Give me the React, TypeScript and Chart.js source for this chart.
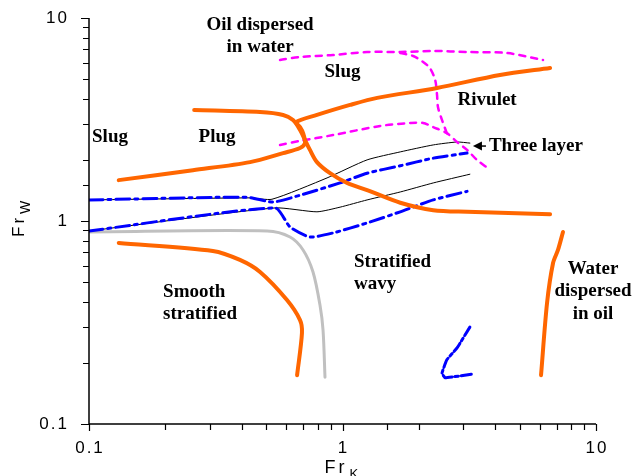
import React, { useEffect, useRef } from 'react';
import { Chart, registerables } from 'chart.js';

Chart.register(...registerables);

// ---- Data (Fr_K, Fr_W) ----
const plugLowerToSlugUpper: [number, number][] = [
  [0.131, 1.59], [0.257, 1.78], [0.432, 1.95], [0.583, 2.16], [0.68, 2.29],
  [0.711, 2.42], [0.699, 2.71], [0.68, 2.9], [0.656, 3.07], [0.793, 3.33],
  [1.071, 3.73], [1.37, 4.04], [2.36, 4.52], [4.18, 5.24], [6.59, 5.67],
];
const plugUpperToWavy: [number, number][] = [
  [0.26, 3.52], [0.473, 3.44], [0.583, 3.33], [0.638, 3.14], [0.68, 2.81],
  [0.711, 2.51], [0.744, 2.24], [0.793, 1.95], [0.893, 1.72], [1.042, 1.54],
  [1.25, 1.42], [1.69, 1.23], [2.28, 1.13], [3.1, 1.11], [6.59, 1.08],
];
const smoothBoundary: [number, number][] = [
  [0.131, 0.779], [0.308, 0.712], [0.394, 0.643], [0.473, 0.561], [0.604, 0.408],
  [0.68, 0.325], [0.692, 0.281], [0.662, 0.174],
];
const waterInOilBoundary: [number, number][] = [
  [6.07, 0.174], [6.41, 0.394], [6.77, 0.621], [7.08, 0.72], [7.41, 0.883],
];
const grayBoundary: [number, number][] = [
  [0.1, 0.883], [0.504, 0.893], [0.621, 0.834], [0.699, 0.72], [0.765, 0.561],
  [0.815, 0.386], [0.838, 0.29], [0.853, 0.17],
];
const blackUpper: [number, number][] = [
  [0.1, 1.27], [0.432, 1.3], [0.527, 1.28], [0.869, 1.63], [1.25, 2.0],
  [1.69, 2.19], [2.28, 2.37], [2.83, 2.45], [3.18, 2.42],
];
const blackLower: [number, number][] = [
  [0.1, 0.893], [0.542, 1.16], [0.793, 1.11], [0.978, 1.17], [1.25, 1.27],
  [1.69, 1.39], [2.28, 1.54], [3.18, 1.7],
];
const blueUpper: [number, number][] = [
  [0.1, 1.27], [0.42, 1.31], [0.532, 1.24], [0.68, 1.34], [0.978, 1.54],
  [1.25, 1.72], [1.69, 1.87], [2.28, 2.04], [3.1, 2.16],
];
const blueLower: [number, number][] = [
  [0.1, 0.893], [0.542, 1.16], [0.621, 0.934], [0.744, 0.834], [0.917, 0.873],
  [1.25, 0.978], [1.69, 1.11], [2.28, 1.27], [3.1, 1.4],
];
const blueSmallV: [number, number][] = [
  [3.18, 0.3], [2.83, 0.237], [2.58, 0.207], [2.47, 0.178], [2.54, 0.169], [3.24, 0.176],
];
const magentaOuter: [number, number][] = [
  [0.567, 6.21], [0.68, 6.43], [0.917, 6.57], [1.25, 6.8], [1.69, 6.8],
  [2.28, 6.88], [3.1, 6.8], [4.46, 6.72], [6.18, 6.21],
];
const magentaInner: [number, number][] = [
  [1.69, 6.72], [1.9, 6.5], [2.08, 6.07], [2.21, 5.67], [2.32, 4.95],
  [2.36, 4.18], [2.38, 3.64], [2.47, 3.14], [2.58, 2.71],
];
const magentaLower: [number, number][] = [
  [0.567, 2.37], [0.68, 2.48], [0.917, 2.65], [1.41, 2.94], [1.85, 3.04],
  [2.08, 3.04], [2.28, 2.9], [2.58, 2.71], [2.83, 2.45], [3.1, 2.24],
  [3.39, 2.0], [3.75, 1.82],
];

const xTickLabels = [0.1, 1, 10];
const yTickLabels = [0.1, 1, 10];

type RegionLabel = { lines: string[]; x: number; y: number; align: CanvasTextAlign };
const regionLabels: RegionLabel[] = [
  { lines: ['Oil dispersed', 'in water'], x: 0.473, y: 9.24, align: 'center' },
  { lines: ['Slug'], x: 1.0, y: 5.42, align: 'center' },
  { lines: ['Rivulet'], x: 3.72, y: 3.95, align: 'center' },
  { lines: ['Slug'], x: 0.121, y: 2.59, align: 'center' },
  { lines: ['Plug'], x: 0.32, y: 2.59, align: 'center' },
  { lines: ['Three layer'], x: 3.78, y: 2.34, align: 'left' },
  { lines: ['Stratified', 'wavy'], x: 1.11, y: 0.628, align: 'left' },
  { lines: ['Smooth', 'stratified'], x: 0.196, y: 0.447, align: 'left' },
  { lines: ['Water', 'dispersed', 'in oil'], x: 9.73, y: 0.58, align: 'center' },
];
const arrowFrom: [number, number] = [3.68, 2.34];
const arrowTo: [number, number] = [3.27, 2.34];

const toPts = (a: [number, number][]) => a.map(([x, y]) => ({ x, y }));
const isMajor = (v: number) => Math.abs(Math.log10(v) - Math.round(Math.log10(v))) < 1e-6;

const ORANGE = '#FF6600';
const BLUE = '#0000FF';
const MAGENTA = '#FF00FF';

const decoPlugin = {
  id: 'deco',
  afterDraw(chart: any) {
    const ctx: CanvasRenderingContext2D = chart.ctx;
    const { left, right, top, bottom } = chart.chartArea;
    const xs = chart.scales.x;
    const ys = chart.scales.y;
    ctx.save();
    // axis lines
    ctx.strokeStyle = '#000';
    ctx.lineWidth = 1.5;
    ctx.beginPath();
    ctx.moveTo(left, top);
    ctx.lineTo(left, bottom);
    ctx.lineTo(right, bottom);
    ctx.stroke();
    // tick marks from the library's generated ticks
    ctx.lineWidth = 1.2;
    ctx.beginPath();
    for (const t of ys.ticks) {
      const p = Math.round(ys.getPixelForValue(t.value)) + 0.5;
      const len = isMajor(t.value) ? 8 : 6;
      ctx.moveTo(left - len, p);
      ctx.lineTo(left, p);
    }
    for (const t of xs.ticks) {
      const p = Math.round(xs.getPixelForValue(t.value)) + 0.5;
      const len = isMajor(t.value) ? 7 : 6;
      ctx.moveTo(p, bottom);
      ctx.lineTo(p, bottom + len);
    }
    ctx.stroke();
    // tick labels
    ctx.fillStyle = '#000';
    ctx.font = '17px "Liberation Sans", Arial, sans-serif';
    (ctx as any).letterSpacing = '2px';
    ctx.textBaseline = 'middle';
    ctx.textAlign = 'right';
    for (const v of yTickLabels) {
      ctx.fillText(String(v), 69, ys.getPixelForValue(v));
    }
    ctx.textAlign = 'center';
    for (const v of xTickLabels) {
      ctx.fillText(String(v), xs.getPixelForValue(v) + 1, bottom + 24);
    }
    // axis titles
    ctx.textBaseline = 'alphabetic';
    ctx.textAlign = 'left';
    (ctx as any).letterSpacing = '3px';
    ctx.font = '18px "Liberation Sans", Arial, sans-serif';
    const xTitleX = (left + right) / 2 - 18;
    ctx.fillText('Fr', xTitleX, 473);
    const frW = ctx.measureText('Fr').width;
    ctx.font = '13px "Liberation Sans", Arial, sans-serif';
    (ctx as any).letterSpacing = '0px';
    ctx.fillText('K', xTitleX + frW + 2, 478);

    ctx.save();
    ctx.translate(24, 237);
    ctx.rotate(-Math.PI / 2);
    (ctx as any).letterSpacing = '3px';
    ctx.font = '17px "Liberation Sans", Arial, sans-serif';
    ctx.fillText('Fr', 0, 0);
    const frW2 = ctx.measureText('Fr').width;
    (ctx as any).letterSpacing = '0px';
    ctx.font = '14px "Liberation Sans", Arial, sans-serif';
    ctx.fillText('W', frW2 + 1, 6);
    ctx.restore();

    // region labels
    ctx.font = 'bold 19px "Liberation Serif", "Times New Roman", serif';
    ctx.textBaseline = 'middle';
    for (const lab of regionLabels) {
      ctx.textAlign = lab.align;
      const px = xs.getPixelForValue(lab.x);
      const py = ys.getPixelForValue(lab.y);
      lab.lines.forEach((s, i) => ctx.fillText(s, px, py + i * 22.5));
    }
    // arrow
    const ax0 = xs.getPixelForValue(arrowFrom[0]);
    const ay0 = ys.getPixelForValue(arrowFrom[1]);
    const ax1 = xs.getPixelForValue(arrowTo[0]);
    const ay1 = ys.getPixelForValue(arrowTo[1]);
    ctx.strokeStyle = '#000';
    ctx.lineWidth = 1.5;
    ctx.beginPath();
    ctx.moveTo(ax0, ay0);
    ctx.lineTo(ax1 + 6, ay1);
    ctx.stroke();
    ctx.beginPath();
    ctx.moveTo(ax1, ay1);
    ctx.lineTo(ax1 + 9, ay1 - 4.5);
    ctx.lineTo(ax1 + 9, ay1 + 4.5);
    ctx.closePath();
    ctx.fill();
    ctx.restore();
  },
};

export default function App() {
  const ref = useRef<HTMLCanvasElement | null>(null);
  useEffect(() => {
    document.body.style.margin = '0';
    if (!ref.current) return;
    const line = (data: [number, number][], color: string, width: number, dash: number[], order: number, tension = 0.3) => ({
      data: toPts(data),
      showLine: true,
      borderColor: color,
      backgroundColor: color,
      borderWidth: width,
      borderDash: dash,
      pointRadius: 0,
      tension,
      fill: false,
      order,
      borderCapStyle: 'round' as const,
      borderJoinStyle: 'round' as const,
    });
    const dashDot = [14, 5, 3, 5];
    const chart = new Chart(ref.current, {
      type: 'scatter',
      data: {
        datasets: [
          line(plugLowerToSlugUpper, ORANGE, 4, [], 1),
          line(plugUpperToWavy, ORANGE, 4, [], 1),
          line(smoothBoundary, ORANGE, 4, [], 1),
          line(waterInOilBoundary, ORANGE, 4, [], 1),
          line(blueUpper, BLUE, 3, dashDot, 2, 0.2),
          line(blueLower, BLUE, 3, dashDot, 2, 0.2),
          line(blueSmallV, BLUE, 3, [10, 3, 3, 3], 2, 0.1),
          line(magentaOuter, MAGENTA, 2.5, [6, 6], 3),
          line(magentaInner, MAGENTA, 2.5, [6, 6], 3),
          line(magentaLower, MAGENTA, 2.5, [6, 6], 3),
          line(blackUpper, '#000', 1, [], 4, 0.2),
          line(blackLower, '#000', 1, [], 4, 0.2),
          line(blueSmallV, '#000', 1, [], 4, 0.1),
          line(grayBoundary, '#C0C0C0', 3, [], 5, 0.3),
        ] as any,
      },
      options: {
        animation: false,
        responsive: false,
        devicePixelRatio: 1,
        layout: { padding: { left: 0, top: 18, right: 39, bottom: 0 } },
        plugins: { legend: { display: false }, tooltip: { enabled: false } },
        scales: {
          x: {
            type: 'logarithmic',
            min: 0.1,
            max: 10,
            grid: { display: false },
            border: { display: false },
            ticks: { display: false, autoSkip: false },
            afterFit: (s: any) => { s.height = 52; },
          },
          y: {
            type: 'logarithmic',
            min: 0.1,
            max: 10,
            grid: { display: false },
            border: { display: false },
            ticks: { display: false, autoSkip: false },
            afterFit: (s: any) => { s.width = 89; },
          },
        },
      } as any,
      plugins: [decoPlugin],
    });
    return () => chart.destroy();
  }, []);
  return (
    <div style={{ width: 635, height: 476, position: 'relative', background: '#fff' }}>
      <canvas ref={ref} width={635} height={476} style={{ display: 'block' }} />
    </div>
  );
}
